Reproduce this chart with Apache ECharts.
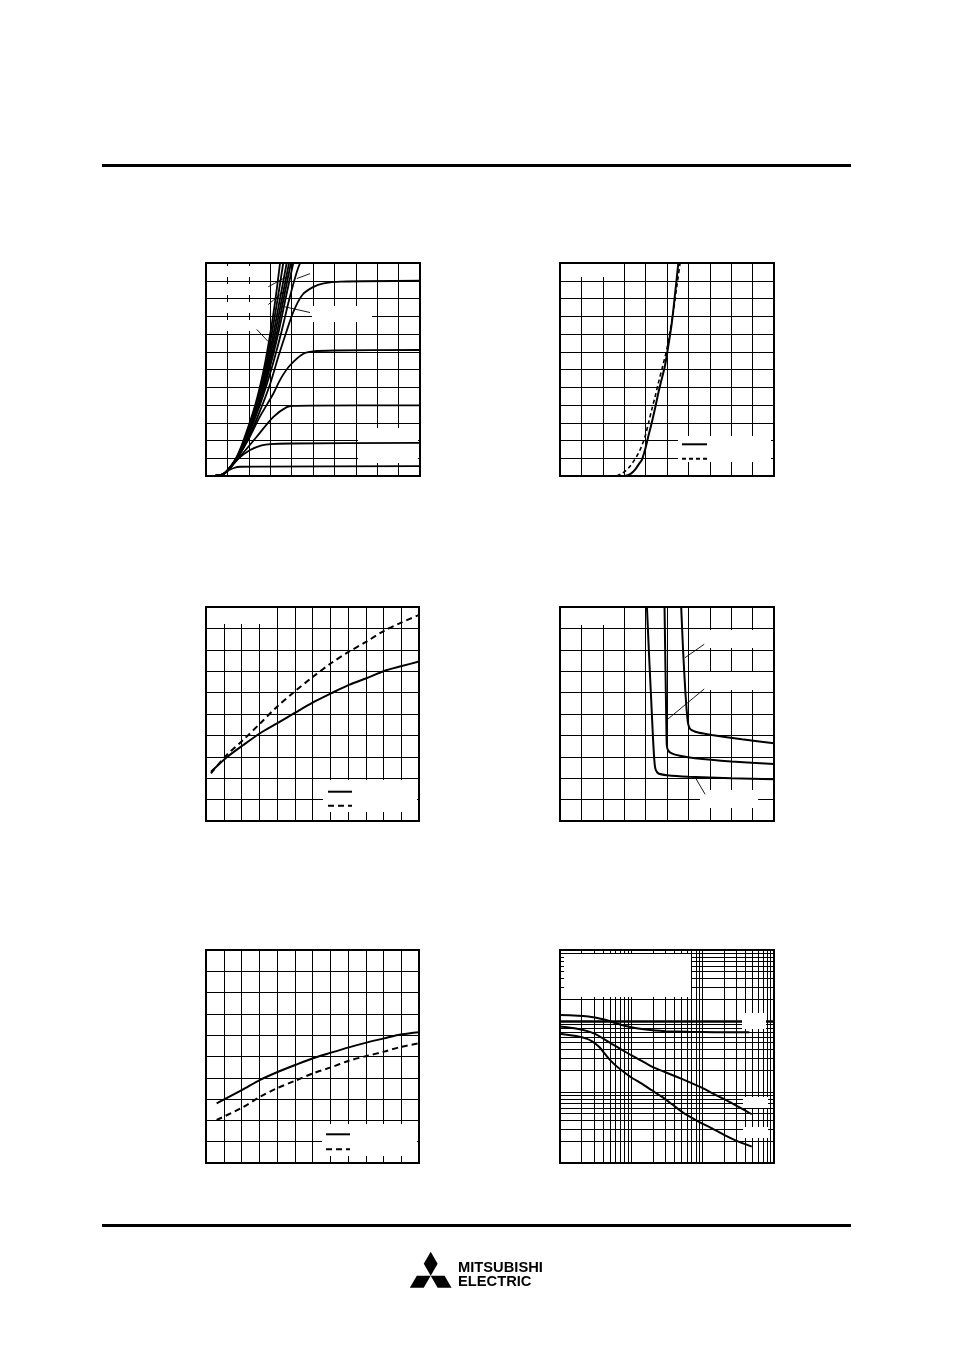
<!DOCTYPE html>
<html><head><meta charset="utf-8">
<script src="https://cdn.jsdelivr.net/npm/echarts@6/dist/echarts.min.js"></script>
<style>html,body{margin:0;padding:0;background:#fff}#c{width:954px;height:1351px}</style>
</head><body><div id="c"></div>
<script>
// ---------------- DATA ----------------
// Chart 1: output characteristics (x: 0..10 div, y: 0..12 div)
const c1Common = [[0,0],[0.5,0.02],[0.8,0.1]];
const c1Sat1 = [[1.0,0.28],[1.3,0.45],[1.6,0.52],[2.5,0.53],[10,0.56]];
const c1Sat2 = [[1.0,0.3],[1.43,0.9],[2.06,1.46],[2.6,1.72],[3.0,1.8],[4,1.83],[10,1.87]];
const c1Sat3 = [[1.0,0.3],[1.59,1.09],[2.37,2.21],[3.15,3.33],[3.77,3.88],[4.1,3.95],[5,3.97],[10,3.98]];
const c1Sat4 = [[1.0,0.3],[1.5,1.1],[2.0,2.1],[2.5,3.3],[3.15,4.65],[3.5,5.5],[3.93,6.24],[4.55,6.89],[5.0,7.02],[6,7.07],[10,7.1]];
const c1Sat5 = [[1.0,0.3],[1.5,1.05],[2.0,2.2],[2.5,3.6],[3.0,5.2],[3.4,6.8],[3.75,8.1],[4.1,9.3],[4.5,10.2],[5.0,10.64],[5.5,10.85],[6.3,10.95],[10,11.0]];
const c1Steep1 = [[1,0.3],[1.4,1],[1.75,2],[2.3,4],[2.7,6],[3.0,8],[3.25,10],[3.46,12],[3.52,12.6]];
const c1Steep2 = [[1,0.3],[1.42,1],[1.78,2],[2.33,4],[2.75,6],[3.07,8],[3.35,10],[3.61,12],[3.68,12.6]];
const c1Steep3 = [[1,0.3],[1.44,1],[1.8,2],[2.37,4],[2.8,6],[3.15,8],[3.46,10],[3.77,12],[3.85,12.6]];
const c1Steep4 = [[1,0.3],[1.45,1],[1.82,2],[2.4,4],[2.85,6],[3.22,8],[3.55,10],[3.88,12],[3.97,12.6]];
const c1Steep5 = [[1,0.3],[1.46,1],[1.84,2],[2.44,4],[2.9,6],[3.3,8],[3.63,10],[3.97,12],[4.07,12.6]];
const c1Steep6 = [[1,0.3],[1.47,1],[1.86,2],[2.48,4],[2.96,6],[3.37,8],[3.72,10],[4.08,12],[4.2,12.6]];
const c1Steep7 = [[1,0.3],[1.48,1],[1.88,2],[2.52,4],[3.05,6],[3.5,8],[3.9,10],[4.3,11.7],[4.6,12.5]];
const c1Leaders = [
  [[2.91,10.66],[3.89,11.31]],
  [[2.91,9.66],[3.61,10.38]],
  [[2.37,8.26],[2.91,7.57]],
  [[4.86,11.4],[4.24,11.12]],
  [[4.86,9.21],[3.69,9.53]]
];
// Chart 2: transfer characteristics (x: 0..10, y: 0..12)
const c2Solid = [[3.04,0],[3.3,0.12],[3.5,0.34],[3.7,0.7],[3.82,0.9],[3.97,1.46],[4.12,2.2],[4.28,2.96],[4.44,3.8],[4.59,4.65],[4.75,5.45],[4.91,6.24],[5.07,7.4],[5.22,8.58],[5.38,10.3],[5.53,12],[5.56,12.5]];
const c2Dashed = [[2.65,0],[2.9,0.15],[3.19,0.43],[3.45,0.85],[3.66,1.27],[3.82,1.7],[3.97,2.21],[4.13,2.95],[4.28,3.71],[4.44,4.45],[4.59,5.21],[4.8,6.2],[4.98,7.08],[5.15,8.2],[5.3,9.3],[5.45,10.6],[5.61,12],[5.64,12.5]];
// Chart 3 (x: 0..12, y: 0..10)
const c3Solid = [[0.28,2.3],[1.16,2.97],[2.1,3.55],[3.05,4.1],[4.0,4.56],[5.02,5.06],[6.03,5.54],[7.04,5.96],[8.05,6.36],[9.04,6.67],[10.03,7.01],[11.03,7.24],[12,7.45]];
const c3Dashed = [[0.28,2.23],[1.16,3.08],[2.1,3.79],[3.05,4.56],[4.0,5.34],[5.02,6.07],[6.03,6.74],[7.04,7.37],[8.05,7.91],[9.04,8.38],[10.03,8.89],[11.03,9.28],[12,9.63]];
// Chart 4 (x: 0..10, y: 0..10)
const c4A = [[4.05,10.3],[4.15,8],[4.25,5.9],[4.35,3.8],[4.42,2.7],[4.47,2.4],[4.6,2.22],[5.0,2.14],[6.0,2.07],[8,2.0],[10,1.95]];
const c4B = [[4.88,10.3],[4.93,7],[4.97,4.5],[4.99,3.55],[5.05,3.3],[5.22,3.16],[5.6,3.05],[6.31,2.93],[8,2.78],[10,2.66]];
const c4C = [[5.65,10.3],[5.75,8],[5.86,6],[5.97,4.64],[6.05,4.35],[6.15,4.25],[6.5,4.12],[7.09,4.02],[8.5,3.82],[10,3.63]];
const c4Leaders = [
  [[6.74,8.26],[5.84,7.63]],
  [[6.74,6.17],[4.99,4.72]],
  [[6.78,1.25],[6.34,2.0]]
];
// Chart 5 (x: 0..12, y: 0..10)
const c5Solid = [[0.6,2.8],[2.04,3.43],[3.05,3.9],[4.0,4.26],[5.02,4.6],[6.03,4.92],[7.04,5.18],[8.05,5.43],[9.04,5.65],[10.03,5.85],[11.03,6.04],[12,6.14]];
const c5Dashed = [[0.6,2.02],[2.04,2.6],[3.05,3.11],[4.0,3.51],[5.02,3.86],[6.03,4.21],[7.04,4.49],[8.05,4.8],[9.04,5.02],[10.03,5.23],[11.03,5.46],[12,5.62]];
// Chart 6 (log-log, x: 0.1..100, y: 0.1..100)
const c6Cies = [[0.1,12.1],[0.18,11.9],[0.25,11.6],[0.31,11.2],[0.43,10.4],[0.55,9.6],[0.73,8.8],[1.0,8.15],[1.4,7.7],[2.15,7.35],[3,7.2],[6.3,7.03],[15,6.97],[45,6.95]];
const c6Coes = [[0.1,8.35],[0.18,7.74],[0.25,7.15],[0.31,6.59],[0.4,5.7],[0.53,4.77],[0.75,3.9],[1.01,3.27],[1.4,2.75],[2.0,2.24],[3.0,1.9],[4.3,1.64],[6.5,1.38],[9.7,1.15],[14,0.95],[20.6,0.78],[30,0.64],[48.8,0.486]];
const c6Cres = [[0.1,6.59],[0.18,6.04],[0.24,5.6],[0.278,5.2],[0.32,4.7],[0.364,4.2],[0.42,3.5],[0.476,3.0],[0.58,2.45],[0.73,2.02],[1.0,1.6],[1.4,1.31],[1.93,1.06],[2.67,0.86],[3.8,0.66],[5.5,0.5],[8.5,0.39],[13.3,0.31],[20.6,0.245],[30,0.205],[48.8,0.17]];
const c6Decades = [0.1, 1, 10, 100];
const c6Minor = [2,3,4,5,6,7,8,9];

// ---------------- LAYOUT ----------------
const grids = [
  {left:206, top:263, width:214, height:213},
  {left:560, top:263, width:214, height:213},
  {left:206, top:607, width:213, height:214},
  {left:560, top:607, width:214, height:214},
  {left:206, top:950, width:213, height:213},
  {left:560, top:950, width:214, height:213}
];
const xMax = [10,10,12,10,12];
const yMax = [12,12,10,10,10];

const chart = echarts.init(document.getElementById('c'), null, {renderer:'canvas', width:954, height:1351});

const gridOpt = grids.map(g => Object.assign({show:true, borderColor:'#000', borderWidth:2, backgroundColor:'rgba(0,0,0,0)', containLabel:false}, g));
const hidden = {axisLine:{show:false}, axisTick:{show:false}, axisLabel:{show:false}};
const split = {show:true, lineStyle:{color:'#000', width:1}};
const xAxes = [], yAxes = [];
for (let i=0;i<5;i++){
  xAxes.push(Object.assign({gridIndex:i, type:'value', min:0, max:xMax[i], interval:1, splitLine:split}, hidden));
  yAxes.push(Object.assign({gridIndex:i, type:'value', min:0, max:yMax[i], interval:1, splitLine:split}, hidden));
}
xAxes.push(Object.assign({gridIndex:5, type:'log', logBase:10, min:0.1, max:100, splitLine:{show:false}}, hidden));
yAxes.push(Object.assign({gridIndex:5, type:'log', logBase:10, min:0.1, max:100, splitLine:{show:false}}, hidden));

const series = [];
function curve(i, data, dashed, width, smooth){
  series.push({type:'line', xAxisIndex:i, yAxisIndex:i, data:data, symbol:'none', showSymbol:false,
    smooth: smooth===undefined?0.3:smooth, silent:true, animation:false, z:5,
    lineStyle:{color:'#000', width: width||2, type: dashed? dashed : 'solid'}});
}
[c1Sat1,c1Sat2,c1Sat3,c1Sat4,c1Sat5,c1Steep1,c1Steep2,c1Steep3,c1Steep4,c1Steep5,c1Steep6,c1Steep7]
  .forEach(d => curve(0, c1Common.concat(d), null, 1.8));
c1Leaders.forEach(d => curve(0, d, null, 0.9, false));
curve(1, c2Solid, null, 2);
curve(1, c2Dashed, [4,3], 1.6);
curve(2, c3Solid, null, 2);
curve(2, c3Dashed, [6,4], 2);
curve(3, c4A, null, 2, 0.2);
curve(3, c4B, null, 2, 0.2);
curve(3, c4C, null, 2, 0.2);
c4Leaders.forEach(d => curve(3, d, null, 0.9, false));
curve(4, c5Solid, null, 2);
curve(4, c5Dashed, [6,4], 2);
curve(5, c6Cies, null, 2, 0.15);
curve(5, c6Coes, null, 2, 0.15);
curve(5, c6Cres, null, 2, 0.15);

// log grid for chart 6 via markLine on a helper series
const c6Lines = [];
for (let k=0;k<3;k++){
  c6Minor.forEach(m => { const v = c6Decades[k]*m; c6Lines.push({xAxis:v}); c6Lines.push({yAxis:v}); });
}
[1,10].forEach(v => c6Lines.push({xAxis:v}));
c6Lines.push({yAxis:1});
c6Lines.push({yAxis:10, lineStyle:{width:2.6}});
series.push({type:'line', xAxisIndex:5, yAxisIndex:5, data:[[0.1,0.1]], symbol:'none', lineStyle:{width:0}, silent:true, z:1, animation:false,
  markLine:{z:1, symbol:'none', silent:true, animation:false, label:{show:false}, emphasis:{disabled:true},
    lineStyle:{color:'#000', width:1, type:'solid'}, data:c6Lines}});

// ---------------- GRAPHIC (page furniture, masks, legend samples, logo) ----------------
const W = '#fff';
function rect(x1,y1,x2,y2,fill,z){ return {type:'rect', shape:{x:x1,y:y1,width:x2-x1,height:y2-y1}, style:{fill:fill}, z:z, silent:true}; }
function seg(x1,y1,x2,y2,dash){ return {type:'line', shape:{x1,y1,x2,y2}, style:{stroke:'#000', lineWidth:2, lineDash:dash||null}, z:10, silent:true}; }
const graphics = [
  rect(102,164,851,167,'#000',10),
  rect(102,1224,851,1227,'#000',10),
  // chart 1 masks
  rect(224,266,230,277,W,3), rect(224,284,230,295,W,3), rect(224,302,230,313,W,3), rect(224,320,230,331,W,3),
  rect(246,266,252,277,W,3), rect(246,284,252,295,W,3), rect(246,302,252,313,W,3), rect(246,320,252,331,W,3),
  rect(312,306,372,322,W,3),
  rect(358,428,418,463,W,3),
  // chart 2
  rect(562,264,622,277,W,3),
  rect(678,436,771,462,W,3),
  seg(682,444.3,707,444.3), seg(682,458.7,707,458.7,[4,3]),
  // chart 3
  rect(208,608,272,624,W,3),
  rect(323,780,417,812,W,3),
  seg(328,791.7,352,791.7), seg(328,805.7,352,805.7,[6,4]),
  // chart 4
  rect(562,608,624,625,W,3),
  rect(706,630,772,648,W,3),
  rect(706,672,772,690,W,3),
  rect(700,790,758,808,W,3),
  // chart 5
  rect(322,1124,417,1156,W,3),
  seg(326,1134.3,350,1134.3), seg(326,1149.3,350,1149.3,[6,4]),
  // chart 6
  rect(564,954,691,997,W,3),
  rect(742,1013,766,1029,W,3),
  rect(743,1097,768,1108,W,3),
  rect(743,1127,768,1138,W,3)
];
// logo
const s = 13.9, cx = 430.7, cy = 1275.8, L = s*Math.sqrt(3);
function poly(pts){ return {type:'polygon', shape:{points:pts}, style:{fill:'#000'}, z:10, silent:true}; }
graphics.push(poly([[cx,cy],[cx+s/2,cy-L/2],[cx,cy-L],[cx-s/2,cy-L/2]]));
graphics.push(poly([[cx,cy],[cx-0.5*s,cy+0.866*s],[cx-1.5*s,cy+0.866*s],[cx-s,cy]]));
graphics.push(poly([[cx,cy],[cx+0.5*s,cy+0.866*s],[cx+1.5*s,cy+0.866*s],[cx+s,cy]]));
graphics.push({type:'text', z:10, silent:true, style:{x:458, y:1268, text:'MITSUBISHI', fill:'#000', font:'bold 14.7px "Liberation Sans", Arial, sans-serif', textVerticalAlign:'middle', verticalAlign:'middle'}});
graphics.push({type:'text', z:10, silent:true, style:{x:458, y:1282.3, text:'ELECTRIC', fill:'#000', font:'bold 14.7px "Liberation Sans", Arial, sans-serif', textVerticalAlign:'middle', verticalAlign:'middle'}});

chart.setOption({
  animation:false,
  backgroundColor:'#fff',
  grid: gridOpt,
  xAxis: xAxes,
  yAxis: yAxes,
  series: series,
  graphic: {elements: graphics}
});
</script>
</body></html>
